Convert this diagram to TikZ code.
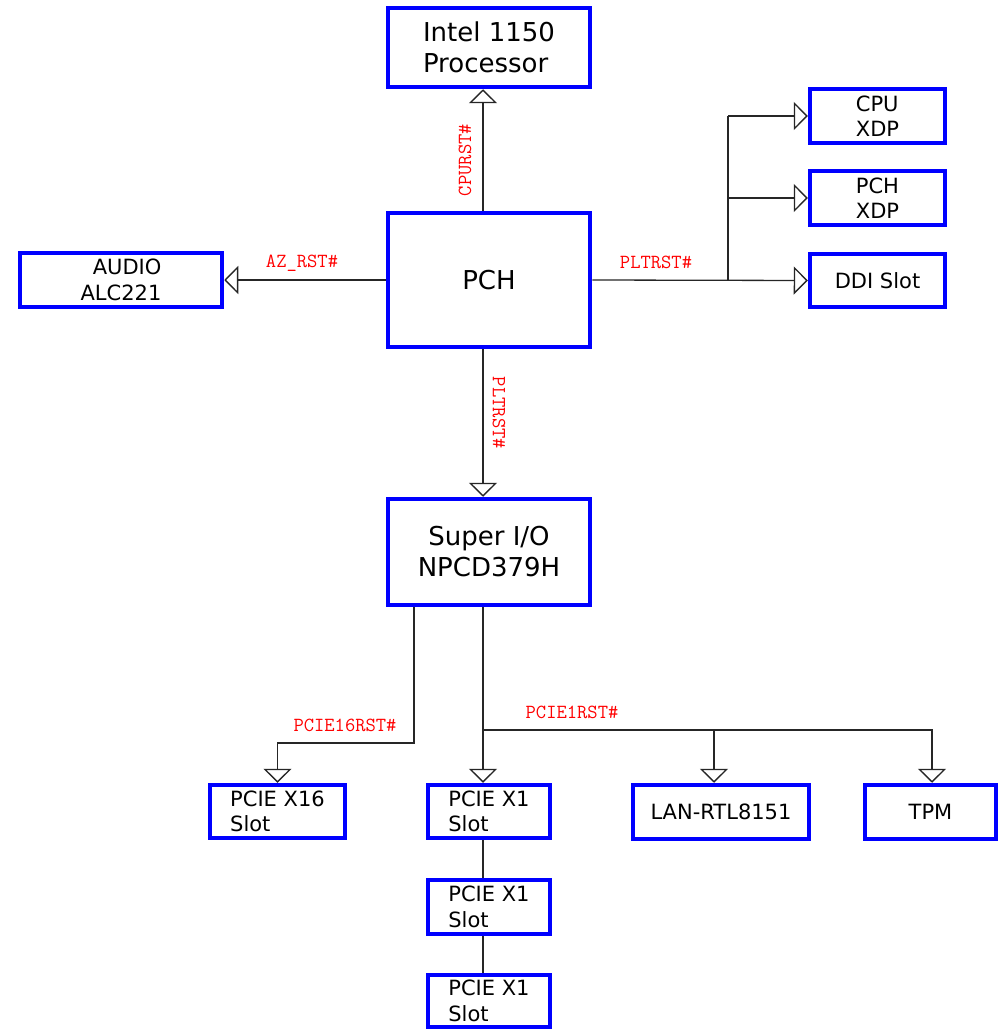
\documentclass[tikz,border=0pt]{standalone}
\usepackage{fontspec}
\setmainfont{DejaVu Sans}
\usetikzlibrary{arrows.meta}
\begin{document}
\begin{tikzpicture}[x=1pt,y=-1pt,
  box/.style={draw=blue, line width=4.5pt, inner sep=0pt, fill=white, text=black},
  big/.style={font=\fontsize{26}{31}\selectfont, align=left},
  small/.style={font=\fontsize{21}{25.5}\selectfont, align=left},
  wire/.style={line width=1.3pt, draw=black!85},
  arr/.style={wire, -{Triangle[open, length=14pt, width=28pt, line width=1.3pt]}},
  sig/.style={font=\ttfamily\fontsize{20}{22}\selectfont, text=red, inner sep=0pt}]
\useasboundingbox (0,0) rectangle (999,1030);
\fill[white] (0,0) rectangle (999,1030);

% boxes
\node[box, big, minimum width=202pt, minimum height=79pt] (intel) at (489,47.5) {Intel 1150\\Processor};
\node[box, big, minimum width=202pt, minimum height=134pt] (pch) at (489,280) {PCH};
\node[box, big, align=center, minimum width=202pt, minimum height=106pt] (sio) at (489,552) {Super I/O\\NPCD379H};
\node[box, small, align=right, minimum width=202pt, minimum height=54pt] (audio) at (121,280) {AUDIO\\ALC221};
\node[box, small, minimum width=135pt, minimum height=54pt] (cpuxdp) at (877.5,116) {CPU\\XDP};
\node[box, small, minimum width=135pt, minimum height=54pt] (pchxdp) at (877.5,198) {PCH\\XDP};
\node[box, small, minimum width=135pt, minimum height=53pt] (ddi) at (877.5,280.5) {DDI Slot};
\node[box, small, minimum width=135pt, minimum height=53pt] (x16) at (277.5,811.5) {PCIE X16\\Slot};
\node[box, small, minimum width=122pt, minimum height=53pt] (x1a) at (489,811.5) {PCIE X1\\Slot};
\node[box, small, minimum width=122pt, minimum height=54pt] (x1b) at (489,907) {PCIE X1\\Slot};
\node[box, small, minimum width=122pt, minimum height=52pt] (x1c) at (489,1001) {PCIE X1\\Slot};
\node[box, small, minimum width=176pt, minimum height=54pt] (lan) at (721,812) {LAN-RTL8151};
\node[box, small, minimum width=131pt, minimum height=54pt] (tpm) at (930.5,812) {TPM};

% junctions
\coordinate (j1) at (728,280);
\coordinate (k16) at (414,743);
\coordinate (j2) at (483,730);

% connectors
\draw[arr] ([xshift=-6pt]pch.north) -- ([xshift=-6pt]intel.south);
\draw[arr] (pch.west) -- (audio.east);
\draw[arr] (pch.east) -- (ddi.west);
\draw[wire] (j1) -- (j1 |- cpuxdp.west);
\draw[arr] (j1 |- cpuxdp.west) -- (cpuxdp.west);
\draw[arr] (j1 |- pchxdp.west) -- (pchxdp.west);
\draw[arr] ([xshift=-6pt]pch.south) -- ([xshift=-6pt]sio.north);
\draw[arr] (k16 |- sio.south) -- (k16) -| (x16.north);
\draw[arr] ([xshift=-6pt]sio.south) -- ([xshift=-6pt]x1a.north);
\draw[arr] (j2) -| ([xshift=-7pt]lan.north);
\draw[arr] (j2) -| ([xshift=1.5pt]tpm.north);
\draw[wire] ([xshift=-6pt]x1a.south) -- ([xshift=-6pt]x1b.north);
\draw[wire] ([xshift=-6pt]x1b.south) -- ([xshift=-6pt]x1c.north);

% signal labels
\node[sig, rotate=90] (lcpu) at (465,160) {CPURST\#};
\node[sig] (laz) at (302,263) {AZ\_RST\#};
\node[sig] (lplt1) at (656,262) {PLTRST\#};
\node[sig, rotate=-90] (lplt2) at (499,413) {PLTRST\#};
\node[sig] (l16) at (345,725) {PCIE16RST\#};
\node[sig] (l1) at (572,712) {PCIE1RST\#};
\end{tikzpicture}
\end{document}
